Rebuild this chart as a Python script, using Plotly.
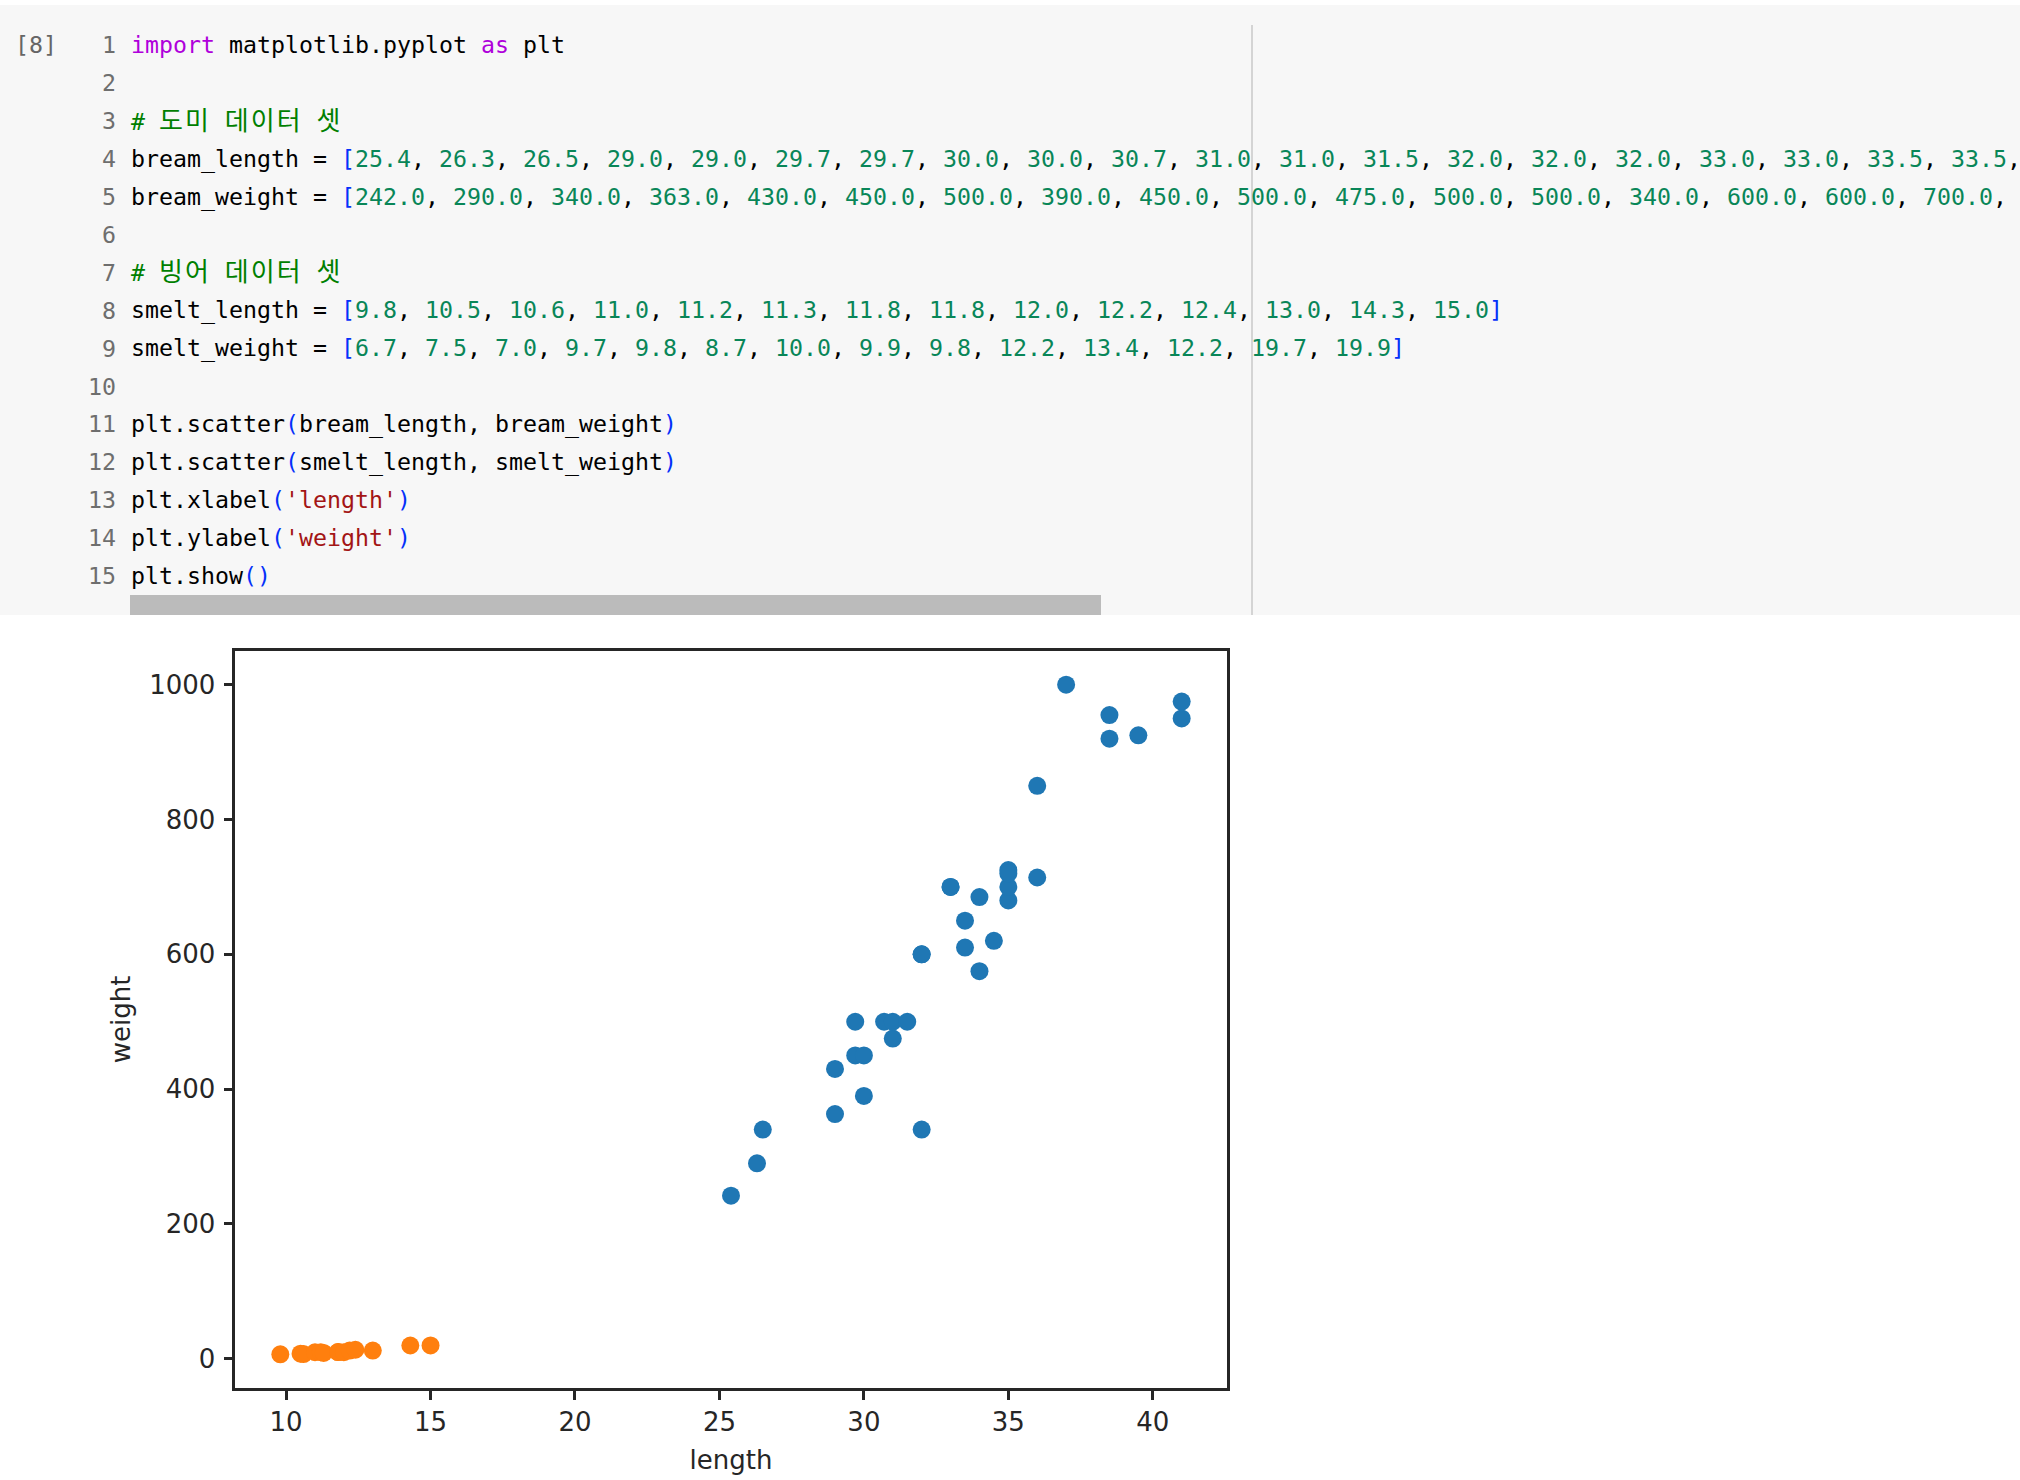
import plotly.graph_objects as go

W, H = 2020, 1480

# 도미 (bream) / 빙어 (smelt) data
bream_length = [25.4, 26.3, 26.5, 29.0, 29.0, 29.7, 29.7, 30.0, 30.0, 30.7, 31.0, 31.0, 31.5, 32.0, 32.0, 32.0,
                33.0, 33.0, 33.5, 33.5, 34.0, 34.0, 34.5, 35.0, 35.0, 35.0, 35.0, 36.0, 36.0, 37.0, 38.5, 38.5,
                39.5, 41.0, 41.0]
bream_weight = [242.0, 290.0, 340.0, 363.0, 430.0, 450.0, 500.0, 390.0, 450.0, 500.0, 475.0, 500.0, 500.0,
                340.0, 600.0, 600.0, 700.0, 700.0, 610.0, 650.0, 575.0, 685.0, 620.0, 680.0, 700.0, 725.0,
                720.0, 714.0, 850.0, 1000.0, 920.0, 955.0, 925.0, 975.0, 950.0]
smelt_length = [9.8, 10.5, 10.6, 11.0, 11.2, 11.3, 11.8, 11.8, 12.0, 12.2, 12.4, 13.0, 14.3, 15.0]
smelt_weight = [6.7, 7.5, 7.0, 9.7, 9.8, 8.7, 10.0, 9.9, 9.8, 12.2, 13.4, 12.2, 19.7, 19.9]

KW, TXT, COM, NUM, STR, BR = "#af00db", "#000000", "#008000", "#098658", "#a31515", "#0431fa"


def span(s, c, extra=""):
    return f'<span style="color:{c}{extra}">{s}</span>'


def comment(words):
    # hangul takes two monospace cells in the notebook font, so widen it a little
    parts = [span(w, COM, ";font-size:26px;letter-spacing:2px") for w in words]
    return span("# ", COM) + span(" ", COM).join(parts)


def list_line(name, vals, shown=None):
    # long lines run off the right edge of the cell, so only the visible part is written
    if shown is None:
        shown = len(vals)
    nums = ", ".join(span(f"{v:.1f}", NUM) for v in vals[:shown])
    end = span("]", BR) if shown == len(vals) else span(",", TXT)
    return span(f"{name} = ", TXT) + span("[", BR) + nums + end


def call_line(fn, args, argc=TXT):
    return span(fn, TXT) + span("(", BR) + span(args, argc) + span(")", BR)


code_lines = [
    span("import", KW) + span(" matplotlib.pyplot ", TXT) + span("as", KW) + span(" plt", TXT),
    "",
    comment(["도미", "데이터", "셋"]),
    list_line("bream_length", bream_length, 20),
    list_line("bream_weight", bream_weight, 17),
    "",
    comment(["빙어", "데이터", "셋"]),
    list_line("smelt_length", smelt_length),
    list_line("smelt_weight", smelt_weight),
    "",
    call_line("plt.scatter", "bream_length, bream_weight"),
    call_line("plt.scatter", "smelt_length, smelt_weight"),
    call_line("plt.xlabel", "'length'", STR),
    call_line("plt.ylabel", "'weight'", STR),
    span("plt.show", TXT) + span("()", BR),
]


def px(x):
    return x / W


def py(y):
    return 1 - y / H


fig = go.Figure()
fig.add_trace(go.Scatter(x=bream_length, y=bream_weight, mode="markers",
                         marker=dict(size=18, color="#1f77b4", line=dict(width=0))))
fig.add_trace(go.Scatter(x=smelt_length, y=smelt_weight, mode="markers",
                         marker=dict(size=18, color="#ff7f0e", line=dict(width=0))))

# matplotlib-like 5% margins
all_x = bream_length + smelt_length
all_y = bream_weight + smelt_weight
xpad = (max(all_x) - min(all_x)) * 0.05
ypad = (max(all_y) - min(all_y)) * 0.05

mono = "DejaVu Sans Mono, Noto Sans CJK KR, monospace"
annotations = []
line_h = 37.9
for i, txt in enumerate(code_lines):
    yc = 45 + i * line_h
    annotations.append(dict(x=px(118), y=py(yc), xref="paper", yref="paper", xanchor="right", yanchor="middle",
                            text=str(i + 1), showarrow=False, font=dict(family=mono, size=23.25, color="#6e6e6e")))
    if txt:
        annotations.append(dict(x=px(129), y=py(yc), xref="paper", yref="paper", xanchor="left",
                                yanchor="middle", text=txt, showarrow=False, align="left",
                                font=dict(family=mono, size=23.25, color=TXT)))
annotations.append(dict(x=px(13), y=py(44), xref="paper", yref="paper", xanchor="left", yanchor="middle",
                        text="[8]", showarrow=False, font=dict(family=mono, size=23.25, color="#666666")))

shapes = [
    dict(type="rect", xref="paper", yref="paper", x0=0, x1=1, y0=py(615), y1=py(5),
         fillcolor="#f7f7f7", line=dict(width=0), layer="below"),
    dict(type="rect", xref="paper", yref="paper", x0=px(130), x1=px(1101), y0=py(615), y1=py(595),
         fillcolor="#bbbbbb", line=dict(width=0), layer="below"),
    dict(type="line", xref="paper", yref="paper", x0=px(1252), x1=px(1252), y0=py(615), y1=py(25),
         line=dict(color="#d4d4d4", width=2), layer="below"),
]

axis_common = dict(showline=True, mirror=True, linecolor="#262626", linewidth=2.5, ticks="outside",
                   ticklen=9, tickwidth=2.5, tickcolor="#262626", showgrid=False, zeroline=False,
                   tickfont=dict(family="DejaVu Sans", size=26, color="#262626"))

fig.update_xaxes(range=[min(all_x) - xpad, max(all_x) + xpad], tick0=0, dtick=5,
                 domain=[px(235.25), px(1226.75)], ticklabelstandoff=0,
                 title=dict(text="length", font=dict(family="DejaVu Sans", size=26, color="#262626"), standoff=16),
                 **axis_common)
fig.update_yaxes(range=[min(all_y) - ypad, max(all_y) + ypad], tick0=0, dtick=200,
                 domain=[py(1387.75), py(651.25)], ticklabelstandoff=3,
                 title=dict(text="weight", font=dict(family="DejaVu Sans", size=26, color="#262626"), standoff=12),
                 **axis_common)

fig.update_layout(width=W, height=H, margin=dict(l=0, r=0, t=0, b=0), showlegend=False,
                  paper_bgcolor="white", plot_bgcolor="white", shapes=shapes, annotations=annotations)

# the page's default 8px body margin would push the figure off the window
fig.write_html("out.html", config={"displayModeBar": False},
               post_script="document.body.style.margin = '0px';")
